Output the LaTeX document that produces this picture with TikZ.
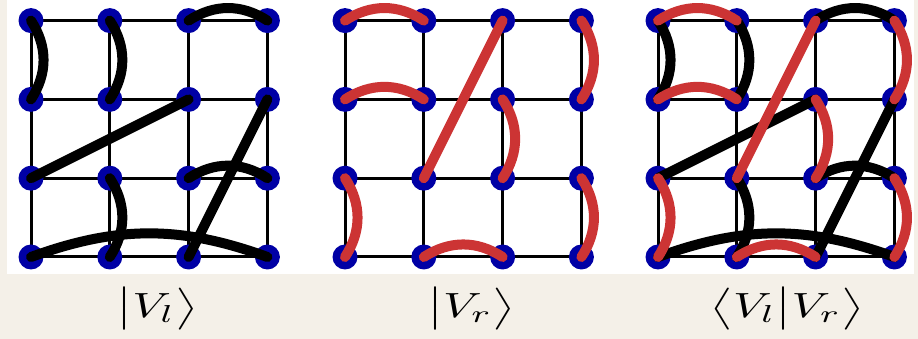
\documentclass[tikz,border=0pt]{standalone}
\usepackage{amsmath}
\definecolor{paper}{RGB}{244,240,232}
\definecolor{dotblue}{RGB}{0,0,165}
\definecolor{bondred}{RGB}{204,52,52}
\tikzset{
  gridline/.style={line width=3pt, black},
  site/.style={circle, fill=dotblue, minimum size=25pt, inner sep=0pt},
  lbond/.style={line width=10pt, black, line cap=round},
  rbond/.style={line width=10pt, bondred, line cap=round},
  lbl/.style={xscale=4.8, yscale=3.5, inner sep=0pt}
}
\begin{document}
\begin{tikzpicture}[x=1pt, y=1pt]
	\useasboundingbox (0,0) rectangle (918,339);
	% paper and white panel
	\fill[paper] (0,0) rectangle (918,339);
	\fill[white] (7,65) rectangle (914,339);
	
	% Lattices: L = left state, R = right state, B = overlap
	\foreach \g/\ox in {L/31, R/345, B/658} {
		\begin{scope}[shift={(\ox,82)}, x=78.8pt, y=78.8pt]
			\foreach \i in {0,...,3} {
				\draw[gridline] (\i,0) -- (\i,3);
				\draw[gridline] (0,\i) -- (3,\i);
			}
			\foreach \c in {0,...,3}
				\foreach \r in {0,...,3}
					\node[site] (\g-\c-\r) at (\c,\r) {};
		\end{scope}
	}
	
	% Left valence bonds (black)
	\foreach \g in {L, B} {
		\draw[lbond] (\g-0-3.center) to[bend left=33] (\g-0-2.center);
		\draw[lbond] (\g-1-3.center) to[bend left=33] (\g-1-2.center);
		\draw[lbond] (\g-2-3.center) to[bend left=33] (\g-3-3.center);
		\draw[lbond] (\g-2-2.center) -- (\g-0-1.center);
		\draw[lbond] (\g-3-2.center) -- (\g-2-0.center);
		\draw[lbond] (\g-2-1.center) to[bend left=33] (\g-3-1.center);
		\draw[lbond] (\g-1-1.center) to[bend left=33] (\g-1-0.center);
		\draw[lbond] (\g-0-0.center) to[bend left=20] (\g-3-0.center);
	}
	
	% Right valence bonds (red)
	\foreach \g in {R, B} {
		\draw[rbond] (\g-0-3.center) to[bend left=33] (\g-1-3.center);
		\draw[rbond] (\g-0-2.center) to[bend left=33] (\g-1-2.center);
		\draw[rbond] (\g-2-3.center) -- (\g-1-1.center);
		\draw[rbond] (\g-3-3.center) to[bend left=33] (\g-3-2.center);
		\draw[rbond] (\g-2-2.center) to[bend left=33] (\g-2-1.center);
		\draw[rbond] (\g-0-1.center) to[bend left=33] (\g-0-0.center);
		\draw[rbond] (\g-1-0.center) to[bend left=33] (\g-2-0.center);
		\draw[rbond] (\g-3-1.center) to[bend left=33] (\g-3-0.center);
	}
	
	% Labels
	\node[lbl] (lblL) at (157,30) {$\bigl|V_l\bigr\rangle$};
	\node[lbl] (lblR) at (471,30) {$\bigl|V_r\bigr\rangle$};
	\node[lbl] (lblB) at (787,30) {$\bigl\langle V_l\big|V_r\bigr\rangle$};
\end{tikzpicture}
\end{document}
